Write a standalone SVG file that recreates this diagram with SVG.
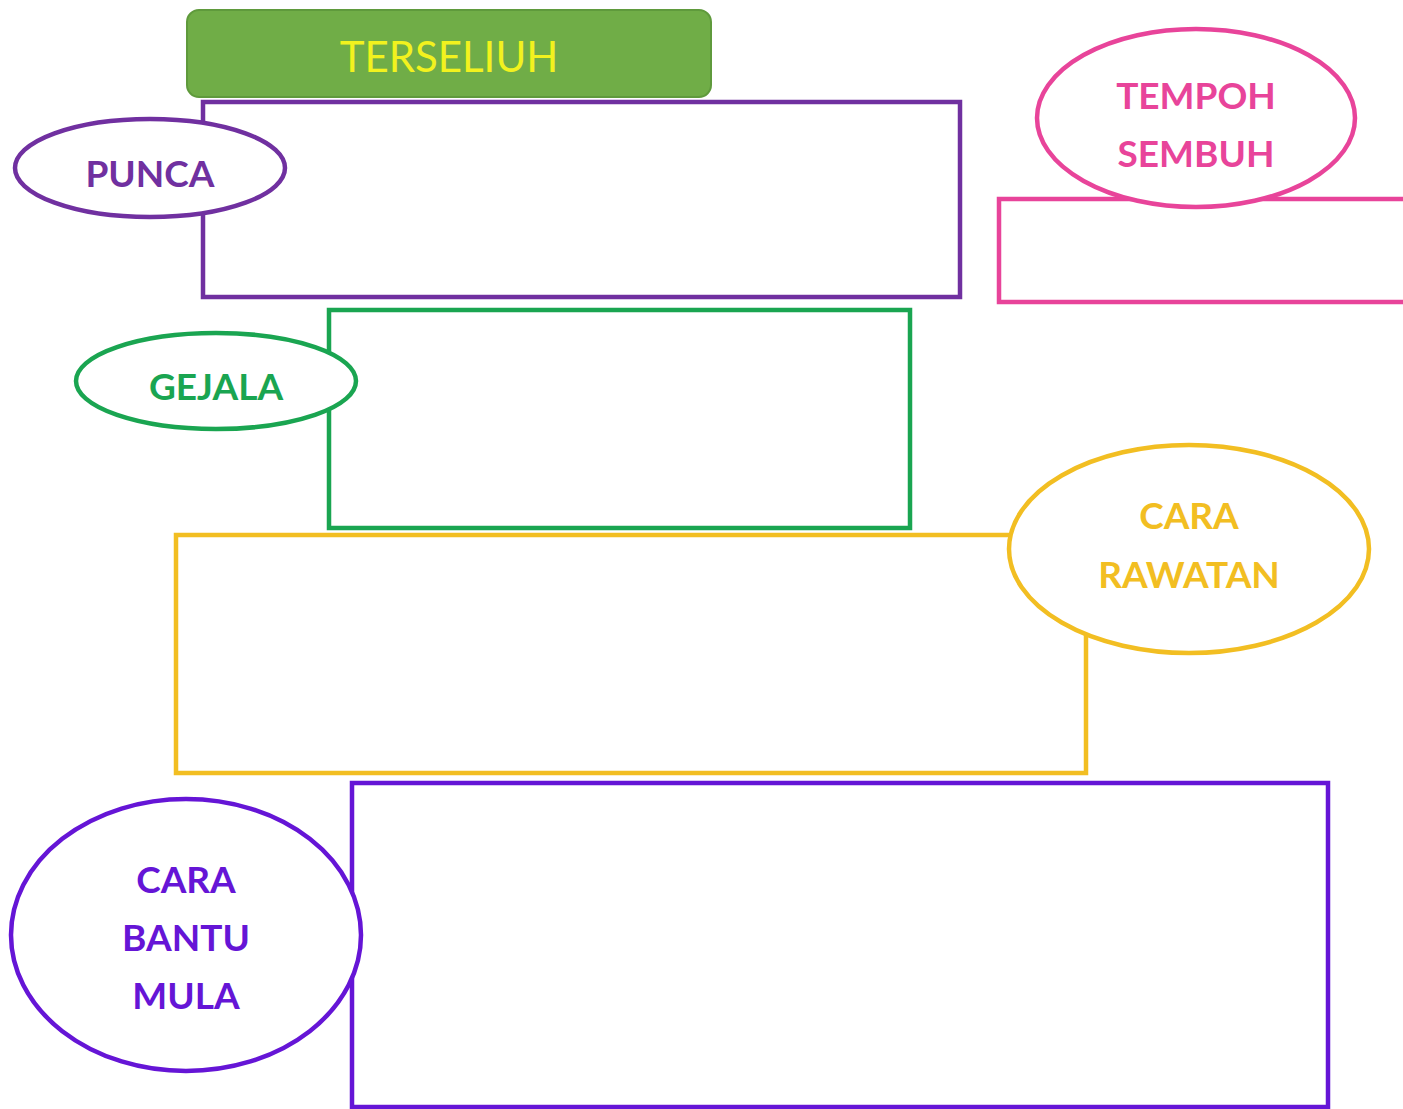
<svg xmlns="http://www.w3.org/2000/svg" width="1403" height="1109" viewBox="0 0 1403 1109">
<style>
.box{fill:#fff;stroke-width:4.5}
.lab{fill:#fff;stroke-width:4.5}
.t{font-family:Lato,"Open Sans","Liberation Sans",sans-serif;font-weight:bold;font-size:37px;text-anchor:middle}
</style>
<rect width="1403" height="1109" fill="#fff"/>
<g id="title">
<rect x="187" y="10" width="524" height="87" rx="12" fill="#70AD47" stroke="#5F9A3C" stroke-width="2"/>
<text x="449" y="72" font-family="Lato,'Open Sans','Liberation Sans',sans-serif" font-size="42" fill="#F2F21E" text-anchor="middle">TERSELIUH</text>
</g>
<g id="connectors"></g>
<g id="punca">
<rect class="box" x="203" y="102" width="757" height="195" stroke="#7030A0"/>
<ellipse class="lab" cx="150" cy="168" rx="135" ry="49" stroke="#7030A0"/>
<text class="t" x="150" y="187" fill="#7030A0">PUNCA</text>
</g>
<g id="tempoh">
<rect class="box" x="999" y="199" width="410" height="103" stroke="#E8449A"/>
<ellipse class="lab" cx="1196" cy="118" rx="159" ry="89" stroke="#E8449A"/>
<text class="t" x="1196" y="109" fill="#E8449A">TEMPOH</text>
<text class="t" x="1196" y="167" fill="#E8449A">SEMBUH</text>
</g>
<g id="gejala">
<rect class="box" x="329" y="310" width="581" height="218" stroke="#1AA551"/>
<ellipse class="lab" cx="216" cy="381" rx="140" ry="48" stroke="#1AA551"/>
<text class="t" x="216" y="400" fill="#1AA551">GEJALA</text>
</g>
<g id="rawatan">
<rect class="box" x="176" y="535" width="910" height="238" stroke="#F2BE22"/>
<ellipse class="lab" cx="1189" cy="549" rx="180" ry="104" stroke="#F2BE22"/>
<text class="t" x="1189" y="529" fill="#F2BE22">CARA</text>
<text class="t" x="1189" y="588" fill="#F2BE22">RAWATAN</text>
</g>
<g id="bantu">
<rect class="box" x="352" y="783" width="976" height="324" stroke="#6515D6"/>
<ellipse class="lab" cx="186" cy="935" rx="175" ry="136" stroke="#6515D6"/>
<text class="t" x="186" y="893" fill="#6515D6">CARA</text>
<text class="t" x="186" y="951" fill="#6515D6">BANTU</text>
<text class="t" x="186" y="1009" fill="#6515D6">MULA</text>
</g>
</svg>
